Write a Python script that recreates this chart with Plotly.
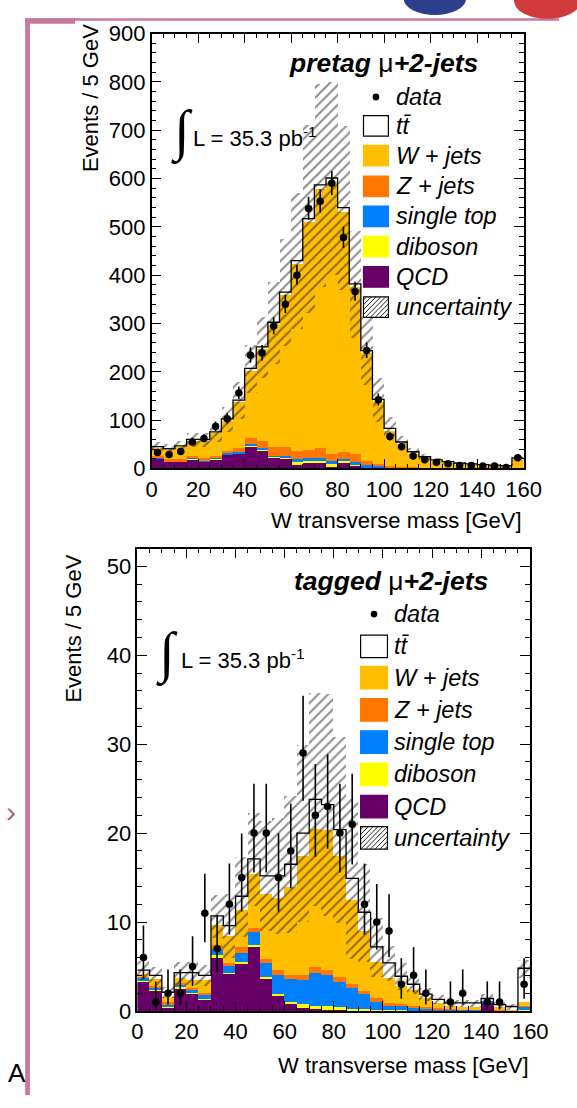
import numpy as np
import plotly.graph_objects as go

# ---------------- data ----------------
edges = np.arange(0, 165, 5)
centers = edges[:-1] + 2.5

# pretag mu+2-jets (Events / 5 GeV)
pre_data = [33, 29, 35, 55, 62, 87, 103, 156, 234, 239, 295, 340, 400, 538, 553, 590,
            478, 366, 244, 142, 66, 45, 26, 18, 13, 10, 6, 6, 5, 5, 2, 22]
pre_qcd = [21, 15, 15, 20, 15, 19.5, 29, 32, 46, 38, 24, 22, 10, 12.8, 12.8, 6,
           12, 8, 2, 1, 0.5, 0.3, 0.2, 0.1, 0.1, 0.1, 0.1, 0.1, 0.1, 0.1, 0.1, 0.5]
pre_diboson = [0.5, 0.5, 0.5, 0.8, 0.8, 1.5, 1, 1, 1.5, 1.5, 1.5, 1.5, 4, 3.2, 4.2, 4,
               4.6, 2, 2, 2, 1, 0.5, 0.4, 0.3, 0.3, 0.2, 0.2, 0.2, 0.2, 0.1, 0.1, 0.3]
pre_stop = [1, 0.8, 0.8, 2.5, 1.5, 1.5, 2, 2.5, 3.5, 3, 2, 2.5, 5.6, 7, 6, 7,
            4, 4, 3.4, 3, 2, 1.5, 1, 0.8, 0.6, 0.5, 0.4, 0.3, 0.3, 0.2, 0.2, 0.5]
pre_zjets = [5, 4, 4, 4, 5, 5, 6, 7, 14, 15, 17, 20, 18.4, 17, 19.6, 14,
             15, 16, 8.6, 4.8, 2.6, 2.5, 2, 1.5, 1.2, 1, 0.8, 0.7, 0.6, 0.5, 0.4, 1.2]
pre_wjets = [17, 20, 26, 32, 37, 47, 63, 97, 139, 191, 254, 314, 387, 471, 537, 562,
             496, 346, 223, 128, 74, 48, 29, 20, 14.4, 11.2, 8.5, 7.7, 6.3, 5.6, 4.7, 18.5]
pre_ttbar = [0.5, 0.5, 0.5, 1, 1, 1, 1.5, 2, 3, 3, 4, 5, 5, 6, 7, 8,
             8, 6, 5, 4, 3, 2, 2, 1.5, 1, 1, 1, 0.5, 0.5, 0.5, 0.5, 1]
pre_unc = [11, 10, 12, 15, 15, 19, 26, 38, 50, 63, 85, 110, 140, 195, 210, 200,
           170, 110, 70, 45, 24, 14, 9, 6, 4.5, 3.5, 3, 2.5, 2, 2, 1.5, 5]

# tagged mu+2-jets
tag_data = [6, 1, 2, 2, 5, 11, 7, 12, 15, 20, 20, 15, 18, 29, 22, 23,
            20, 21, 12, 10, 9, 3, 4, 2, 0, 1, 2, 0, 1, 1, 0, 3]
tag_qcd = [3.3, 2.3, 0.4, 2.6, 2.0, 1.3, 6.1, 4.2, 5.4, 7.3, 3.7, 1.8, 0.9, 0.4, 0.3, 0.2,
           0.2, 0.1, 0.1, 0.05, 0.05, 0.05, 0, 0, 0, 0, 0, 0, 1.0, 0, 0, 0.1]
tag_diboson = [0.1, 0.1, 0.1, 0.1, 0.1, 0.1, 0.2, 0.1, 0.1, 0.2, 0.2, 0.2, 0.2, 0.4, 0.3, 0.4,
               0.3, 0.2, 0.2, 0.1, 0.1, 0.1, 0.05, 0.05, 0.05, 0.05, 0.05, 0.05, 0.02, 0.02, 0.02, 0.05]
tag_stop = [0.4, 0.3, 0.2, 0.3, 0.4, 0.5, 0.7, 0.9, 1.1, 1.4, 1.5, 2.1, 2.5, 2.7, 3.7, 3.5,
            2.8, 2.3, 1.6, 0.95, 0.55, 0.45, 0.35, 0.25, 0.2, 0.15, 0.1, 0.1, 0.15, 0.1, 0.05, 0.35]
tag_zjets = [0.1, 0.1, 0.3, 0.2, 0.1, 0.2, 0.5, 0.2, 0.6, 0.5, 0.5, 0.5, 0.5, 0.6, 0.7, 0.5,
             0.6, 0.5, 0.4, 0.4, 0.2, 0.2, 0.2, 0.15, 0.1, 0.1, 0.05, 0.05, 0.03, 0.03, 0.03, 0.1]
tag_wjets = [0.3, 0.8, 0.6, 0.5, 0.9, 1.4, 2.2, 3.1, 4.2, 6.1, 7.3, 8.1, 9.9, 13.4, 15.5, 15.8,
             13.6, 9.4, 6.7, 4.0, 2.8, 2.0, 1.8, 1.05, 0.55, 0.3, 0.3, 0.3, 0.05, 0.35, 0.1, 0.4]
tag_ttbar = [0.4, 0.4, 0.5, 0.6, 0.8, 0.5, 1.0, 1.1, 1.5, 1.6, 2.0, 2.5, 2.5, 2.5, 3.3, 2.8,
             2.9, 2.4, 2.1, 1.7, 1.7, 1.1, 0.6, 0.4, 0.4, 0.3, 0.4, 0.4, 0.15, 0.2, 0.3, 3.8]
tag_unc = [1.1, 1.0, 0.6, 1.3, 1.3, 1.2, 2.4, 3.6, 4.5, 5.2, 6.2, 6.5, 7.7, 10, 12, 12.5,
           10.5, 9, 5.5, 3.3, 2.0, 1.5, 1.0, 0.7, 0.5, 0.4, 0.4, 0.4, 0.5, 0.3, 0.3, 1.0]

legend_labels = ["data", "tt\u0304", "W + jets", "Z + jets", "single top", "diboson", "QCD", "uncertainty"]
comp_colors = ["#660066", "#FFFF00", "#0080FF", "#FF7700", "#FFBF00", "#FFFFFF"]  # QCD, diboson, stop, Z, W, ttbar
legend_colors = ["#FFFFFF", "#FFBF00", "#FF7700", "#0080FF", "#FFFF00", "#660066"]

# ---------------- helpers ----------------
W, H = 577, 1108
FONT = "Liberation Sans, Arial, sans-serif"
PINK = "#c8789d"


def px(x):
    return x / W


def py(y):
    return 1 - y / H


def poisson_err(n):
    n = np.asarray(n, float)
    up = np.sqrt(n + 0.75) + 1.0
    with np.errstate(divide="ignore", invalid="ignore"):
        lo = n - n * (1 - 1 / (9 * n) - 1 / (3 * np.sqrt(n))) ** 3
    lo = np.where(n > 0, lo, 0)
    return up, lo


fig = go.Figure()
shapes = []
annotations = []

panels = [
    dict(xa="x", ya="y", data=pre_data,
         comps=[pre_qcd, pre_diboson, pre_stop, pre_zjets, pre_wjets, pre_ttbar], unc=pre_unc,
         header="<b><i>pretag</i></b> \u03bc<b><i>+2-jets</i></b>", hx=495, hy=52,
         intx=170, inty=123, lumx=193, lumy=128,
         rows=[87, 116.5, 147, 178.5, 209, 240, 271, 302], bx0=373, bx1=399, bh=21, tx=405),
    dict(xa="x2", ya="y2", data=tag_data,
         comps=[tag_qcd, tag_diboson, tag_stop, tag_zjets, tag_wjets, tag_ttbar], unc=tag_unc,
         header="<b><i>tagged</i></b> \u03bc<b><i>+2-jets</i></b>", hx=505, hy=582,
         intx=154, inty=657, lumx=180, lumy=662,
         rows=[616, 649, 681, 714, 747, 780, 813, 845], bx0=370, bx1=398, bh=23, tx=403),
]

for p in panels:
    comps = [np.asarray(c, float) for c in p["comps"]]
    base = np.zeros(len(centers))
    for vals, col in zip(comps, comp_colors):
        fig.add_trace(go.Bar(x=centers, y=vals, base=base.copy(), width=5,
                             marker=dict(color=col, line_width=0),
                             xaxis=p["xa"], yaxis=p["ya"], showlegend=False, hoverinfo="skip"))
        base = base + vals
    total = base
    unc = np.asarray(p["unc"], float)
    lo = np.maximum(total - unc, 0)
    hi = total + unc
    fig.add_trace(go.Bar(x=centers, y=hi - lo, base=lo, width=5,
                         marker=dict(color="rgba(0,0,0,0)", line_width=0,
                                     pattern=dict(shape="/", fgcolor="#1a1a1a", bgcolor="rgba(0,0,0,0)",
                                                  size=7, solidity=0.28, fillmode="overlay")),
                         xaxis=p["xa"], yaxis=p["ya"], showlegend=False, hoverinfo="skip"))
    fig.add_trace(go.Scatter(x=edges, y=np.append(total, total[-1]), mode="lines",
                             line=dict(shape="hv", color="black", width=1.3),
                             xaxis=p["xa"], yaxis=p["ya"], showlegend=False, hoverinfo="skip"))
    d = np.asarray(p["data"], float)
    up, dn = poisson_err(d)
    m = d > 0
    fig.add_trace(go.Scatter(x=centers[m], y=d[m], mode="markers",
                             marker=dict(size=7.5, color="black"),
                             error_y=dict(type="data", array=up[m], arrayminus=dn[m],
                                          thickness=1.6, width=0, color="black"),
                             xaxis=p["xa"], yaxis=p["ya"], showlegend=False, hoverinfo="skip"))

    # header and luminosity
    annotations.append(dict(text=p["header"], x=px(p["hx"]), y=py(p["hy"]), xref="paper", yref="paper",
                            xanchor="right", yanchor="middle", showarrow=False,
                            font=dict(family=FONT, size=26.5, color="black")))
    annotations.append(dict(text="\u222b", x=px(p["intx"]), y=py(p["inty"]), xref="paper", yref="paper",
                            xanchor="left", yanchor="middle", showarrow=False,
                            font=dict(family="Liberation Serif", size=56, color="black")))
    annotations.append(dict(text="L = 35.3 pb<sup>-1</sup>", x=px(p["lumx"]), y=py(p["lumy"]),
                            xref="paper", yref="paper", xanchor="left", yanchor="middle", showarrow=False,
                            font=dict(family=FONT, size=22, color="black")))

    # manual legend
    rows = p["rows"]
    bx0, bx1, bh = p["bx0"], p["bx1"], p["bh"]
    for i, lab in enumerate(legend_labels):
        yc = rows[i]
        annotations.append(dict(text="<i>%s</i>" % lab, x=px(p["tx"]), y=py(yc), xref="paper", yref="paper",
                                xanchor="left", yanchor="middle", showarrow=False,
                                font=dict(family=FONT, size=23.5, color="black")))
        y0, y1 = yc - bh / 2, yc + bh / 2
        if i == 0:
            cx = (bx0 + bx1) / 2
            shapes.append(dict(type="circle", xref="paper", yref="paper",
                               x0=px(cx - 3.5), x1=px(cx + 3.5), y0=py(yc + 3.5), y1=py(yc - 3.5),
                               fillcolor="black", line_width=0))
        elif i <= 6:
            col = legend_colors[i - 1]
            lc = "black" if i == 1 else col
            shapes.append(dict(type="rect", xref="paper", yref="paper",
                               x0=px(bx0), x1=px(bx1), y0=py(y1), y1=py(y0),
                               fillcolor=col, line=dict(color=lc, width=1.2)))
        else:
            shapes.append(dict(type="rect", xref="paper", yref="paper",
                               x0=px(bx0), x1=px(bx1), y0=py(y1), y1=py(y0),
                               fillcolor="white", line=dict(color="black", width=1.2)))
            w = bx1 - bx0
            h = y1 - y0
            for c in np.arange(-h + 3, w, 5):
                xs, ys = bx0 + c, y1
                xe, ye = bx0 + c + h, y0
                if xs < bx0:
                    ys = y1 - (bx0 - xs)
                    xs = bx0
                if xe > bx1:
                    ye = y0 + (xe - bx1)
                    xe = bx1
                shapes.append(dict(type="line", xref="paper", yref="paper",
                                   x0=px(xs), y0=py(ys), x1=px(xe), y1=py(ye),
                                   line=dict(color="#222222", width=1)))

# axis titles
annotations += [
    dict(text="W transverse mass [GeV]", x=px(541), y=py(520), xref="paper", yref="paper",
         xanchor="right", yanchor="middle", showarrow=False, font=dict(family=FONT, size=22, color="black")),
    dict(text="W transverse mass [GeV]", x=px(548), y=py(1078), xref="paper", yref="paper",
         xanchor="right", yanchor="middle", showarrow=False, font=dict(family=FONT, size=22, color="black")),
    dict(text="Events / 5 GeV", x=px(88), y=py(10), xref="paper", yref="paper", textangle=-90,
         xanchor="center", yanchor="top", showarrow=False, font=dict(family=FONT, size=22, color="black")),
    dict(text="Events / 5 GeV", x=px(70), y=py(553), xref="paper", yref="paper", textangle=-90,
         xanchor="center", yanchor="top", showarrow=False, font=dict(family=FONT, size=22, color="black")),
    # slide decorations
    dict(text="A", x=px(0), y=py(1086), xref="paper", yref="paper", xanchor="left", yanchor="middle",
         showarrow=False, font=dict(family=FONT, size=26, color="black")),
    dict(text="\u203a", x=px(-2), y=py(818), xref="paper", yref="paper", xanchor="left", yanchor="middle",
         showarrow=False, font=dict(family=FONT, size=30, color="#b06080")),
]

# slide frame decorations
shapes += [
    dict(type="rect", xref="paper", yref="paper", x0=px(20), x1=px(25), y0=py(1108), y1=py(8),
         fillcolor=PINK, line_width=0),
    dict(type="rect", xref="paper", yref="paper", x0=px(20), x1=px(577), y0=py(9), y1=py(6.5),
         fillcolor=PINK, line_width=0),
    dict(type="rect", xref="paper", yref="paper", x0=px(20), x1=px(72), y0=py(12), y1=py(6.5),
         fillcolor=PINK, line_width=0),
    dict(type="circle", xref="paper", yref="paper", x0=px(415), x1=px(480), y0=py(3), y1=py(-30),
         fillcolor="#2b3f8c", line_width=0),
    dict(type="circle", xref="paper", yref="paper", x0=px(530), x1=px(600), y0=py(7), y1=py(-30),
         fillcolor="#d03a3a", line_width=0),
]


def axis_common(**kw):
    d = dict(showline=True, linecolor="black", linewidth=1.5, mirror="allticks",
             ticks="inside", ticklen=10, tickwidth=1.3, tickcolor="black",
             showgrid=False, zeroline=False, tickfont=dict(family=FONT, size=22, color="black"),
             fixedrange=True)
    d.update(kw)
    return d


fig.update_layout(
    width=W, height=H, margin=dict(l=0, r=0, t=0, b=0),
    paper_bgcolor="white", plot_bgcolor="white",
    barmode="overlay", bargap=0, showlegend=False,
    xaxis=axis_common(domain=[px(152), px(540)], anchor="y", range=[0, 160], tick0=0, dtick=20,
                      minor=dict(dtick=5, ticklen=5, ticks="inside", tickcolor="black", tickwidth=1)),
    yaxis=axis_common(domain=[py(467), py(22)], anchor="x", range=[0, 900], tick0=0, dtick=100,
                      minor=dict(dtick=20, ticklen=5, ticks="inside", tickcolor="black", tickwidth=1)),
    xaxis2=axis_common(domain=[px(137), px(547)], anchor="y2", range=[0, 160], tick0=0, dtick=20,
                       minor=dict(dtick=5, ticklen=5, ticks="inside", tickcolor="black", tickwidth=1)),
    yaxis2=axis_common(domain=[py(1022), py(549)], anchor="x2", range=[0, 52], tick0=0, dtick=10,
                       minor=dict(dtick=2, ticklen=5, ticks="inside", tickcolor="black", tickwidth=1)),
    shapes=shapes, annotations=annotations,
)

fig.write_html("out.html")
